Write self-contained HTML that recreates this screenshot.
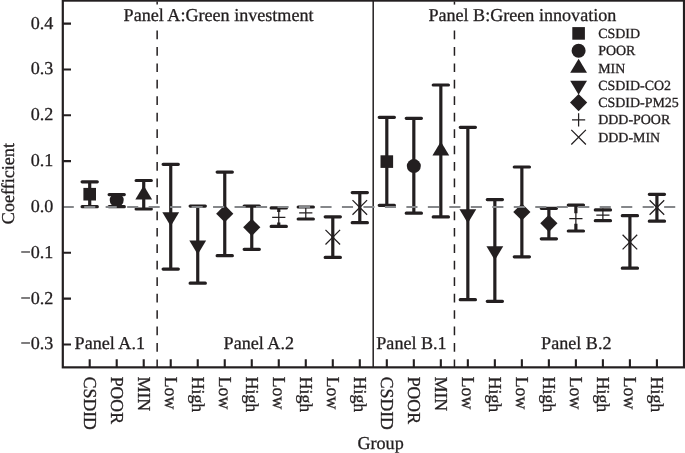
<!DOCTYPE html>
<html lang="en"><head><meta charset="utf-8"><title>Coefficient plot</title>
<style>html,body{margin:0;padding:0;background:#fff;}body{width:685px;height:453px;overflow:hidden;}svg{display:block;}text{font-family:"Liberation Serif","Times New Roman",Times,serif;fill:#231f20;stroke:#231f20;stroke-width:0.3px;}text{text-rendering:geometricPrecision;}.t18{font-size:18.1px;}.t14{font-size:13.95px;}</style></head><body>
<svg width="685" height="453" viewBox="0 0 685 453">
<rect width="685" height="453" fill="#fff"/>
<line x1="157.15" y1="1.5" x2="157.15" y2="4.6" stroke="#231f20" stroke-width="1.5"/>
<path d="M157.15,30.50V39.20M157.15,46.95V55.65M157.15,63.40V72.10M157.15,79.85V88.55M157.15,96.30V105.00M157.15,112.75V121.45M157.15,129.20V137.90M157.15,145.65V154.35M157.15,162.10V170.80M157.15,178.55V187.25M157.15,195.00V203.70M157.15,211.45V220.15M157.15,227.90V236.60M157.15,244.35V253.05M157.15,260.80V269.50M157.15,277.25V285.95M157.15,293.70V302.40M157.15,310.15V318.85M157.15,326.60V335.30M157.15,343.05V351.75M157.15,359.50V367.35" stroke="#231f20" stroke-width="1.5" fill="none"/>
<line x1="454.45" y1="1.5" x2="454.45" y2="4.6" stroke="#231f20" stroke-width="1.5"/>
<path d="M454.45,30.50V39.20M454.45,46.95V55.65M454.45,63.40V72.10M454.45,79.85V88.55M454.45,96.30V105.00M454.45,112.75V121.45M454.45,129.20V137.90M454.45,145.65V154.35M454.45,162.10V170.80M454.45,178.55V187.25M454.45,195.00V203.70M454.45,211.45V220.15M454.45,227.90V236.60M454.45,244.35V253.05M454.45,260.80V269.50M454.45,277.25V285.95M454.45,293.70V302.40M454.45,310.15V318.85M454.45,326.60V335.30M454.45,343.05V351.75M454.45,359.50V367.35" stroke="#231f20" stroke-width="1.5" fill="none"/>
<line x1="373.2" y1="0.6" x2="373.2" y2="367.35" stroke="#231f20" stroke-width="1.5"/>
<path d="M89.70,181.80V206.70" stroke="#231f20" stroke-width="3.2" fill="none"/>
<path d="M82.10,181.80H97.30M82.10,206.70H97.30" stroke="#231f20" stroke-width="3.2" stroke-linecap="round" fill="none"/>
<rect x="83.40" y="187.90" width="12.6" height="12.6" fill="#231f20"/>
<path d="M116.71,194.60V206.70" stroke="#231f20" stroke-width="3.2" fill="none"/>
<path d="M109.11,194.60H124.31M109.11,206.70H124.31" stroke="#231f20" stroke-width="3.2" stroke-linecap="round" fill="none"/>
<circle cx="116.71" cy="200.10" r="7.0" fill="#231f20"/>
<path d="M143.72,180.50V209.00" stroke="#231f20" stroke-width="3.2" fill="none"/>
<path d="M136.12,180.50H151.32M136.12,209.00H151.32" stroke="#231f20" stroke-width="3.2" stroke-linecap="round" fill="none"/>
<polygon points="143.72,185.47 152.12,199.47 135.32,199.47" fill="#231f20"/>
<path d="M170.73,164.30V269.10" stroke="#231f20" stroke-width="3.2" fill="none"/>
<path d="M163.13,164.30H178.33M163.13,269.10H178.33" stroke="#231f20" stroke-width="3.2" stroke-linecap="round" fill="none"/>
<polygon points="170.73,226.33 179.13,212.33 162.33,212.33" fill="#231f20"/>
<path d="M197.74,206.10V283.20" stroke="#231f20" stroke-width="3.2" fill="none"/>
<path d="M190.14,206.10H205.34M190.14,283.20H205.34" stroke="#231f20" stroke-width="3.2" stroke-linecap="round" fill="none"/>
<polygon points="197.74,254.53 206.14,240.53 189.34,240.53" fill="#231f20"/>
<path d="M224.75,172.10V255.70" stroke="#231f20" stroke-width="3.2" fill="none"/>
<path d="M217.15,172.10H232.35M217.15,255.70H232.35" stroke="#231f20" stroke-width="3.2" stroke-linecap="round" fill="none"/>
<polygon points="224.75,205.10 233.35,213.70 224.75,222.30 216.15,213.70" fill="#231f20"/>
<path d="M251.76,206.10V249.30" stroke="#231f20" stroke-width="3.2" fill="none"/>
<path d="M244.16,206.10H259.36M244.16,249.30H259.36" stroke="#231f20" stroke-width="3.2" stroke-linecap="round" fill="none"/>
<polygon points="251.76,218.70 260.36,227.30 251.76,235.90 243.16,227.30" fill="#231f20"/>
<path d="M278.77,207.90V212.00M278.77,222.60V226.40" stroke="#231f20" stroke-width="3.2" fill="none"/>
<path d="M271.17,207.90H286.37M271.17,226.40H286.37" stroke="#231f20" stroke-width="3.2" stroke-linecap="round" fill="none"/>
<path d="M272.17,217.30H285.37M278.77,210.70V223.90" stroke="#231f20" stroke-width="1.25" fill="none"/>
<path d="M305.78,207.00V207.60M305.78,218.20V219.00" stroke="#231f20" stroke-width="3.2" fill="none"/>
<path d="M298.18,207.00H313.38M298.18,219.00H313.38" stroke="#231f20" stroke-width="3.2" stroke-linecap="round" fill="none"/>
<path d="M299.18,212.90H312.38M305.78,206.30V219.50" stroke="#231f20" stroke-width="1.25" fill="none"/>
<path d="M332.79,216.80V257.40" stroke="#231f20" stroke-width="3.2" fill="none"/>
<path d="M325.19,216.80H340.39M325.19,257.40H340.39" stroke="#231f20" stroke-width="3.2" stroke-linecap="round" fill="none"/>
<path d="M325.49,229.90L340.09,244.50M325.49,244.50L340.09,229.90" stroke="#231f20" stroke-width="1.25" fill="none"/>
<path d="M359.80,192.60V222.70" stroke="#231f20" stroke-width="3.2" fill="none"/>
<path d="M352.20,192.60H367.40M352.20,222.70H367.40" stroke="#231f20" stroke-width="3.2" stroke-linecap="round" fill="none"/>
<path d="M352.50,200.10L367.10,214.70M352.50,214.70L367.10,200.10" stroke="#231f20" stroke-width="1.25" fill="none"/>
<path d="M386.81,117.30V205.30" stroke="#231f20" stroke-width="3.2" fill="none"/>
<path d="M379.21,117.30H394.41M379.21,205.30H394.41" stroke="#231f20" stroke-width="3.2" stroke-linecap="round" fill="none"/>
<rect x="380.51" y="155.30" width="12.6" height="12.6" fill="#231f20"/>
<path d="M413.82,118.30V213.20" stroke="#231f20" stroke-width="3.2" fill="none"/>
<path d="M406.22,118.30H421.42M406.22,213.20H421.42" stroke="#231f20" stroke-width="3.2" stroke-linecap="round" fill="none"/>
<circle cx="413.82" cy="166.10" r="7.0" fill="#231f20"/>
<path d="M440.83,85.00V216.90" stroke="#231f20" stroke-width="3.2" fill="none"/>
<path d="M433.23,85.00H448.43M433.23,216.90H448.43" stroke="#231f20" stroke-width="3.2" stroke-linecap="round" fill="none"/>
<polygon points="440.83,141.47 449.23,155.47 432.43,155.47" fill="#231f20"/>
<path d="M467.84,127.30V299.70" stroke="#231f20" stroke-width="3.2" fill="none"/>
<path d="M460.24,127.30H475.44M460.24,299.70H475.44" stroke="#231f20" stroke-width="3.2" stroke-linecap="round" fill="none"/>
<polygon points="467.84,223.23 476.24,209.23 459.44,209.23" fill="#231f20"/>
<path d="M494.85,199.60V301.30" stroke="#231f20" stroke-width="3.2" fill="none"/>
<path d="M487.25,199.60H502.45M487.25,301.30H502.45" stroke="#231f20" stroke-width="3.2" stroke-linecap="round" fill="none"/>
<polygon points="494.85,260.23 503.25,246.23 486.45,246.23" fill="#231f20"/>
<path d="M521.86,167.00V256.80" stroke="#231f20" stroke-width="3.2" fill="none"/>
<path d="M514.26,167.00H529.46M514.26,256.80H529.46" stroke="#231f20" stroke-width="3.2" stroke-linecap="round" fill="none"/>
<polygon points="521.86,203.40 530.46,212.00 521.86,220.60 513.26,212.00" fill="#231f20"/>
<path d="M548.87,208.30V238.80" stroke="#231f20" stroke-width="3.2" fill="none"/>
<path d="M541.27,208.30H556.47M541.27,238.80H556.47" stroke="#231f20" stroke-width="3.2" stroke-linecap="round" fill="none"/>
<polygon points="548.87,214.70 557.47,223.30 548.87,231.90 540.27,223.30" fill="#231f20"/>
<path d="M575.88,205.10V213.20M575.88,223.80V231.00" stroke="#231f20" stroke-width="3.2" fill="none"/>
<path d="M568.28,205.10H583.48M568.28,231.00H583.48" stroke="#231f20" stroke-width="3.2" stroke-linecap="round" fill="none"/>
<path d="M569.28,218.50H582.48M575.88,211.90V225.10" stroke="#231f20" stroke-width="1.25" fill="none"/>
<path d="M602.89,220.50V220.70" stroke="#231f20" stroke-width="3.2" fill="none"/>
<path d="M595.29,209.90H610.49M595.29,220.70H610.49" stroke="#231f20" stroke-width="3.2" stroke-linecap="round" fill="none"/>
<path d="M596.29,215.20H609.49M602.89,208.60V221.80" stroke="#231f20" stroke-width="1.25" fill="none"/>
<path d="M629.90,215.70V268.20" stroke="#231f20" stroke-width="3.2" fill="none"/>
<path d="M622.30,215.70H637.50M622.30,268.20H637.50" stroke="#231f20" stroke-width="3.2" stroke-linecap="round" fill="none"/>
<path d="M622.60,234.80L637.20,249.40M622.60,249.40L637.20,234.80" stroke="#231f20" stroke-width="1.25" fill="none"/>
<path d="M656.91,194.30V221.20" stroke="#231f20" stroke-width="3.2" fill="none"/>
<path d="M649.31,194.30H664.51M649.31,221.20H664.51" stroke="#231f20" stroke-width="3.2" stroke-linecap="round" fill="none"/>
<path d="M649.61,200.20L664.21,214.80M649.61,214.80L664.21,200.20" stroke="#231f20" stroke-width="1.25" fill="none"/>
<path d="M62.70,206.9H73.80M84.18,206.9H95.28M105.66,206.9H116.76M127.14,206.9H138.24M148.62,206.9H159.72M170.10,206.9H181.20M191.58,206.9H202.68M213.06,206.9H224.16M234.54,206.9H245.64M256.02,206.9H267.12M277.50,206.9H288.60M298.98,206.9H310.08M320.46,206.9H331.56M341.94,206.9H353.04M363.42,206.9H374.52M384.90,206.9H396.00M406.38,206.9H417.48M427.86,206.9H438.96M449.34,206.9H460.44M470.82,206.9H481.92M492.30,206.9H503.40M513.78,206.9H524.88M535.26,206.9H546.36M556.74,206.9H567.84M578.22,206.9H589.32M599.70,206.9H610.80M621.18,206.9H632.28M642.66,206.9H653.76M664.14,206.9H675.24" stroke="#85878a" stroke-width="2" fill="none"/>
<rect x="62.8" y="0.6" width="621.2" height="366.75" fill="none" stroke="#231f20" stroke-width="2.2"/>
<path d="M62.8,344.48H71.00M62.8,298.64H71.00M62.8,252.80H71.00M62.8,161.12H71.00M62.8,115.28H71.00M62.8,69.44H71.00M62.8,23.60H71.00" stroke="#231f20" stroke-width="2.1" fill="none"/>
<path d="M89.70,367.35V359.15M116.71,367.35V359.15M143.72,367.35V359.15M170.73,367.35V359.15M197.74,367.35V359.15M224.75,367.35V359.15M251.76,367.35V359.15M278.77,367.35V359.15M305.78,367.35V359.15M332.79,367.35V359.15M359.80,367.35V359.15M386.81,367.35V359.15M413.82,367.35V359.15M440.83,367.35V359.15M467.84,367.35V359.15M494.85,367.35V359.15M521.86,367.35V359.15M548.87,367.35V359.15M575.88,367.35V359.15M602.89,367.35V359.15M629.90,367.35V359.15M656.91,367.35V359.15" stroke="#231f20" stroke-width="2.1" fill="none"/>
<text class="t18" x="53.3" y="349.48" text-anchor="end">−0.3</text>
<text class="t18" x="53.3" y="303.64" text-anchor="end">−0.2</text>
<text class="t18" x="53.3" y="257.80" text-anchor="end">−0.1</text>
<text class="t18" x="53.3" y="211.96" text-anchor="end">0.0</text>
<text class="t18" x="53.3" y="166.12" text-anchor="end">0.1</text>
<text class="t18" x="53.3" y="120.28" text-anchor="end">0.2</text>
<text class="t18" x="53.3" y="74.44" text-anchor="end">0.3</text>
<text class="t18" x="53.3" y="28.60" text-anchor="end">0.4</text>
<text class="t18" transform="translate(14.1,183.6) rotate(-90)" text-anchor="middle">Coefficient</text>
<text class="t18" x="380.6" y="449.2" text-anchor="middle">Group</text>
<text class="t18" transform="translate(84.15,376.7) rotate(90) scale(0.98,1.01)">CSDID</text>
<text class="t18" transform="translate(111.16,376.7) rotate(90) scale(0.98,1.01)">POOR</text>
<text class="t18" transform="translate(138.17,376.7) rotate(90) scale(0.98,1.01)">MIN</text>
<text class="t18" transform="translate(165.18,376.7) rotate(90) scale(0.98,1.01)">Low</text>
<text class="t18" transform="translate(192.19,376.7) rotate(90) scale(0.98,1.01)">High</text>
<text class="t18" transform="translate(219.20,376.7) rotate(90) scale(0.98,1.01)">Low</text>
<text class="t18" transform="translate(246.21,376.7) rotate(90) scale(0.98,1.01)">High</text>
<text class="t18" transform="translate(273.22,376.7) rotate(90) scale(0.98,1.01)">Low</text>
<text class="t18" transform="translate(300.23,376.7) rotate(90) scale(0.98,1.01)">High</text>
<text class="t18" transform="translate(327.24,376.7) rotate(90) scale(0.98,1.01)">Low</text>
<text class="t18" transform="translate(354.25,376.7) rotate(90) scale(0.98,1.01)">High</text>
<text class="t18" transform="translate(381.26,376.7) rotate(90) scale(0.98,1.01)">CSDID</text>
<text class="t18" transform="translate(408.27,376.7) rotate(90) scale(0.98,1.01)">POOR</text>
<text class="t18" transform="translate(435.28,376.7) rotate(90) scale(0.98,1.01)">MIN</text>
<text class="t18" transform="translate(462.29,376.7) rotate(90) scale(0.98,1.01)">Low</text>
<text class="t18" transform="translate(489.30,376.7) rotate(90) scale(0.98,1.01)">High</text>
<text class="t18" transform="translate(516.31,376.7) rotate(90) scale(0.98,1.01)">Low</text>
<text class="t18" transform="translate(543.32,376.7) rotate(90) scale(0.98,1.01)">High</text>
<text class="t18" transform="translate(570.33,376.7) rotate(90) scale(0.98,1.01)">Low</text>
<text class="t18" transform="translate(597.34,376.7) rotate(90) scale(0.98,1.01)">High</text>
<text class="t18" transform="translate(624.35,376.7) rotate(90) scale(0.98,1.01)">Low</text>
<text class="t18" transform="translate(651.36,376.7) rotate(90) scale(0.98,1.01)">High</text>
<text class="t18" x="123.6" y="20.8">Panel A:Green investment</text>
<text class="t18" x="428.4" y="20.8">Panel B:Green innovation</text>
<text class="t18" x="74.6" y="348.6">Panel A.1</text>
<text class="t18" x="223.6" y="348.6">Panel A.2</text>
<text class="t18" x="376.3" y="348.6">Panel B.1</text>
<text class="t18" x="541.1" y="348.6">Panel B.2</text>
<rect x="572.30" y="27.10" width="12.6" height="12.6" fill="#231f20"/>
<text class="t14" x="598.2" y="37.90">CSDID</text>
<circle cx="578.60" cy="50.70" r="7.0" fill="#231f20"/>
<text class="t14" x="598.2" y="55.20">POOR</text>
<polygon points="578.60,58.67 587.00,72.67 570.20,72.67" fill="#231f20"/>
<text class="t14" x="598.2" y="72.50">MIN</text>
<polygon points="578.60,94.63 587.00,80.63 570.20,80.63" fill="#231f20"/>
<text class="t14" x="598.2" y="89.80">CSDID-CO2</text>
<polygon points="578.60,94.00 587.20,102.60 578.60,111.20 570.00,102.60" fill="#231f20"/>
<text class="t14" x="598.2" y="107.10">CSDID-PM25</text>
<path d="M572.00,119.90H585.20M578.60,113.30V126.50" stroke="#231f20" stroke-width="1.25" fill="none"/>
<text class="t14" x="598.2" y="124.40">DDD-POOR</text>
<path d="M571.30,129.90L585.90,144.50M571.30,144.50L585.90,129.90" stroke="#231f20" stroke-width="1.25" fill="none"/>
<text class="t14" x="598.2" y="141.70">DDD-MIN</text>
</svg></body></html>
